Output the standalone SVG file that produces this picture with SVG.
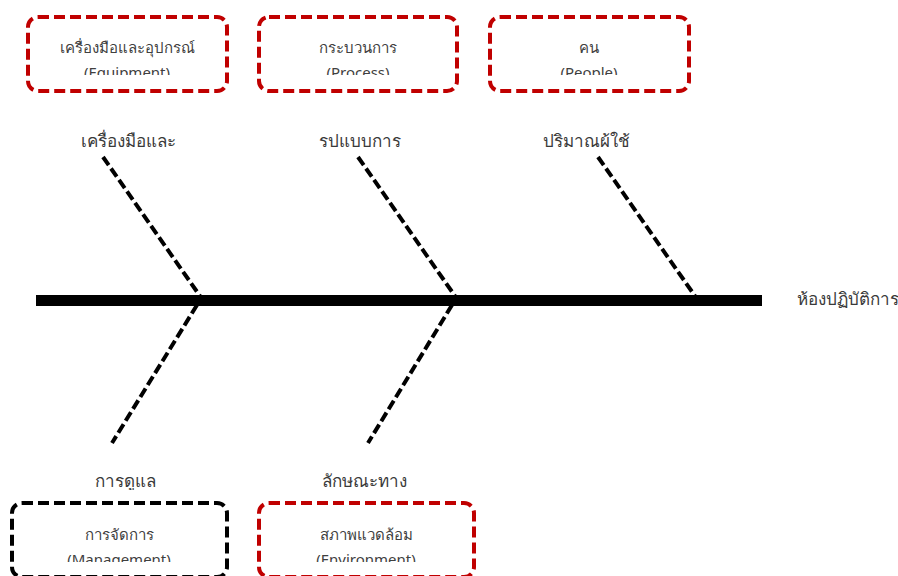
<svg xmlns="http://www.w3.org/2000/svg" width="898" height="576" viewBox="0 0 898 576">
<style>
.box{fill:none;stroke-width:4;stroke-dasharray:11 5;stroke-linecap:butt}
.red{stroke:#C00000}
.blk{stroke:#000}
.bt{font-family:"Noto Sans","Liberation Sans",sans-serif;font-size:15px;fill:#404040;text-anchor:middle}
.lb{font-family:"Noto Sans","Liberation Sans",sans-serif;font-size:17px;fill:#3a3a3a;text-anchor:middle}
.bone{stroke:#000;stroke-width:4;stroke-dasharray:10 4;fill:none}
</style>
<defs>
<clipPath id="cTop"><rect x="0" y="0" width="898" height="75"/></clipPath>
<clipPath id="cBot"><rect x="0" y="500" width="898" height="62"/></clipPath>
<clipPath id="cLabTop"><rect x="0" y="120" width="898" height="28"/></clipPath>
<clipPath id="cLabBot"><rect x="0" y="460" width="898" height="30"/></clipPath>
</defs>
<rect width="898" height="576" fill="#fff"/>
<g id="spine">
<rect x="36" y="295" width="726" height="11" fill="#000"/>
<text class="lb" x="848" y="305">ห้องปฏิบัติการ</text>
</g>
<g id="connectors">
<line class="bone" x1="103" y1="157" x2="200" y2="296"/>
<line class="bone" x1="358" y1="157" x2="455" y2="296"/>
<line class="bone" x1="598" y1="157" x2="695" y2="296"/>
<line class="bone" x1="197" y1="305" x2="112" y2="443"/>
<line class="bone" x1="452" y1="305" x2="368" y2="443"/>
</g>
<g id="equipment">
<rect class="box red" x="28" y="17" width="199" height="74" rx="10"/>
<text class="bt" x="127" y="53">เครื่องมือและอุปกรณ์</text>
<text class="bt" x="127" y="78" clip-path="url(#cTop)">(Equipment)</text>
</g>
<g id="process">
<rect class="box red" x="259" y="17" width="198" height="74" rx="10"/>
<text class="bt" x="358" y="53">กระบวนการ</text>
<text class="bt" x="358" y="78" clip-path="url(#cTop)">(Process)</text>
</g>
<g id="people">
<rect class="box red" x="490" y="17" width="199" height="74" rx="10"/>
<text class="bt" x="589" y="53">คน</text>
<text class="bt" x="589" y="78" clip-path="url(#cTop)">(People)</text>
</g>
<g id="management">
<rect class="box blk" x="12" y="503" width="215" height="74" rx="10"/>
<text class="bt" x="119" y="540">การจัดการ</text>
<text class="bt" x="119" y="565" clip-path="url(#cBot)">(Management)</text>
</g>
<g id="environment">
<rect class="box red" x="259" y="503" width="215" height="74" rx="10"/>
<text class="bt" x="366" y="540">สภาพแวดล้อม</text>
<text class="bt" x="366" y="565" clip-path="url(#cBot)">(Environment)</text>
</g>
<g id="labels">
<text class="lb" x="128" y="147" clip-path="url(#cLabTop)">เครื่องมือและ</text>
<text class="lb" x="360" y="147" clip-path="url(#cLabTop)">รูปแบบการ</text>
<text class="lb" x="586" y="147" clip-path="url(#cLabTop)">ปริมาณผู้ใช้</text>
<text class="lb" x="125" y="487" clip-path="url(#cLabBot)">การดูแล</text>
<text class="lb" x="364" y="487" clip-path="url(#cLabBot)">ลักษณะทาง</text>
</g>
</svg>
